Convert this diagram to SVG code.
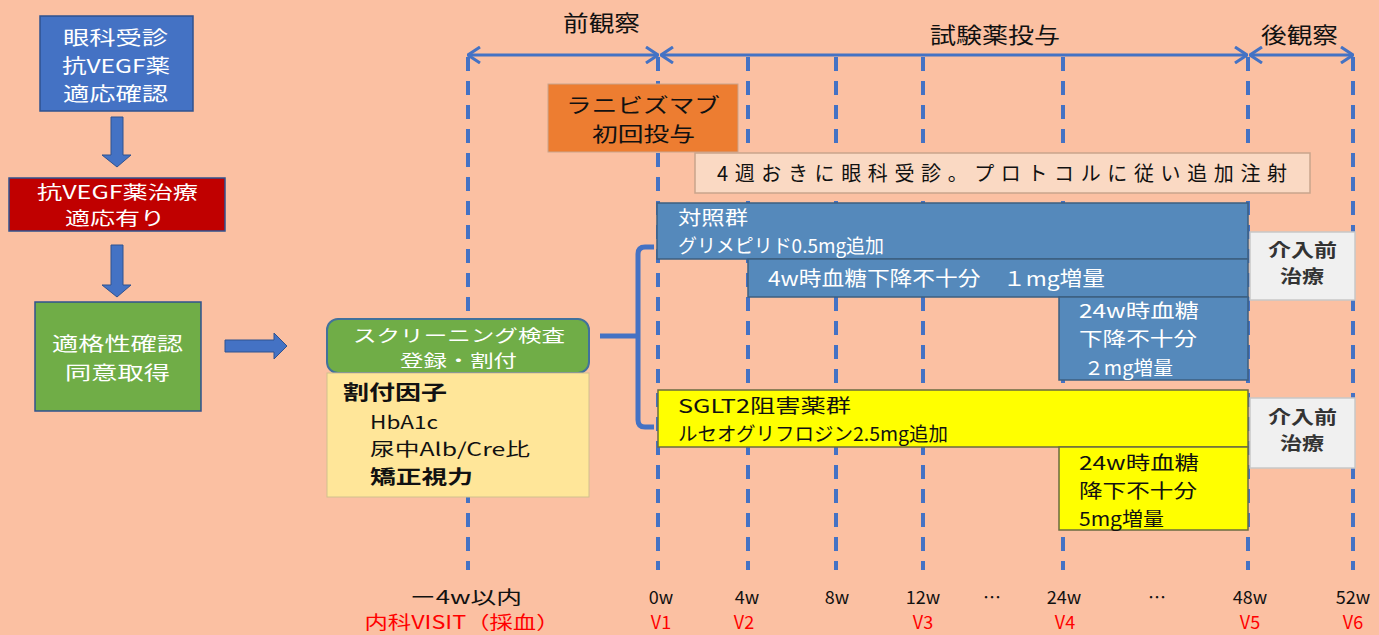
<svg xmlns="http://www.w3.org/2000/svg" width="1379" height="635" viewBox="0 0 1379 635">
<style>
text{font-family:"Noto Sans CJK JP","Noto Sans CJK SC",sans-serif;}
.w{fill:#ffffff;}
.k{fill:#111111;}
.r{fill:#ff0000;}
.b{font-weight:bold;}
.f22{font-size:22px;}
.f20{font-size:20px;}
.f19{font-size:19px;}
.f18{font-size:18px;}
.f17{font-size:17px;}
.dash{stroke:#4472c4;stroke-width:4;stroke-dasharray:14 10;fill:none;}
.tl{stroke:#4472c4;stroke-width:3;fill:none;marker-start:url(#chev);marker-end:url(#chev);}
.blk{fill:#4472c4;stroke:#2f528f;stroke-width:1;}
</style>
<defs>
<marker id="chev" viewBox="0 0 14 18" refX="13" refY="9" markerWidth="14" markerHeight="18" markerUnits="userSpaceOnUse" orient="auto-start-reverse">
<path d="M1,1 L13,9 L1,17" fill="none" stroke="#4472c4" stroke-width="3"/>
</marker>
</defs>
<rect x="0" y="0" width="1379" height="635" fill="#fbc0a2"/>

<g id="timeline">
<line class="dash" x1="468" y1="57" x2="468" y2="570"/>
<line class="dash" x1="658" y1="57" x2="658" y2="570"/>
<line class="dash" x1="748" y1="57" x2="748" y2="570"/>
<line class="dash" x1="836" y1="57" x2="836" y2="570"/>
<line class="dash" x1="923" y1="57" x2="923" y2="570"/>
<line class="dash" x1="1063" y1="57" x2="1063" y2="570"/>
<line class="dash" x1="1248" y1="57" x2="1248" y2="570"/>
<line class="dash" x1="1353" y1="57" x2="1353" y2="570"/>
<path class="tl" d="M468,55 H658"/>
<path class="tl" d="M661,55 H1247"/>
<path class="tl" d="M1250,55 H1353"/>
<text class="k f22" x="563" y="31" textLength="77" lengthAdjust="spacingAndGlyphs">前観察</text>
<text class="k f22" x="930" y="43" textLength="130" lengthAdjust="spacingAndGlyphs">試験薬投与</text>
<text class="k f22" x="1261" y="43" textLength="77" lengthAdjust="spacingAndGlyphs">後観察</text>
</g>

<g id="connectors">
<polygon class="blk" points="111,117 123,117 123,155 131,155 117,167 102,155 111,155"/>
<polygon class="blk" points="111,245 123,245 123,285 131,285 117,297 102,285 111,285"/>
<polygon class="blk" points="225,340 274,340 274,333 287,346 274,359 274,352 225,352"/>
<path d="M600,336 H638 M654,247 H645 Q638,247 638,254 V420 Q638,427 645,427 H654" fill="none" stroke="#4472c4" stroke-width="5"/>
</g>

<g id="n-ophthalmology">
<rect x="40" y="16" width="153" height="95" fill="#4472c4" stroke="#2f528f" stroke-width="1.5"/>
<text class="w f19" x="63" y="45" textLength="105" lengthAdjust="spacingAndGlyphs">眼科受診</text>
<text class="w f19" x="62" y="73" textLength="108" lengthAdjust="spacingAndGlyphs">抗VEGF薬</text>
<text class="w f19" x="63" y="101" textLength="105" lengthAdjust="spacingAndGlyphs">適応確認</text>
</g>

<g id="n-indication">
<rect x="9" y="178" width="216" height="53" fill="#c00000" stroke="#2f528f" stroke-width="1.5"/>
<text class="w f18" x="37" y="199" textLength="161" lengthAdjust="spacingAndGlyphs">抗VEGF薬治療</text>
<text class="w f18" x="65" y="225" textLength="100" lengthAdjust="spacingAndGlyphs">適応有り</text>
</g>

<g id="n-eligibility">
<rect x="35" y="302" width="166" height="109" fill="#70ad47" stroke="#2f528f" stroke-width="1.5"/>
<text class="w f19" x="52" y="351" textLength="131" lengthAdjust="spacingAndGlyphs">適格性確認</text>
<text class="w f19" x="65" y="380" textLength="105" lengthAdjust="spacingAndGlyphs">同意取得</text>
</g>

<g id="n-screening">
<rect x="327" y="319" width="262" height="54" rx="11" fill="#70ad47" stroke="#41719c" stroke-width="2"/>
<text class="w f17" x="353" y="342" textLength="212" lengthAdjust="spacingAndGlyphs">スクリーニング検査</text>
<text class="w f17" x="400" y="367" textLength="117" lengthAdjust="spacingAndGlyphs">登録・割付</text>
</g>

<g id="n-factors">
<rect x="327" y="373" width="262" height="124" fill="#ffe699" stroke="#d2c08e" stroke-width="1"/>
<text class="k f20 b" x="343" y="400" textLength="104" lengthAdjust="spacingAndGlyphs">割付因子</text>
<text class="k f18" x="370" y="429" textLength="68" lengthAdjust="spacingAndGlyphs">HbA1c</text>
<text class="k f18" x="370" y="456" textLength="160" lengthAdjust="spacingAndGlyphs">尿中Alb/Cre比</text>
<text class="k f19 b" x="370" y="484" textLength="103" lengthAdjust="spacingAndGlyphs">矯正視力</text>
</g>

<g id="n-ranibizumab">
<rect x="548" y="84" width="190" height="68" fill="#ed7d31" stroke="#c9a48c" stroke-width="1"/>
<text class="k f20" x="566" y="113" textLength="154" lengthAdjust="spacingAndGlyphs">ラニビズマブ</text>
<text class="k f20" x="592" y="142" textLength="103" lengthAdjust="spacingAndGlyphs">初回投与</text>
</g>

<g id="n-every4w">
<rect x="695" y="153" width="615" height="40" fill="#fad9c3" stroke="#c9a48c" stroke-width="1.5"/>
<text class="k f20" x="717" y="181" textLength="570">4週おきに眼科受診。プロトコルに従い追加注射</text>
</g>

<g id="n-control">
<rect x="657" y="203" width="591" height="56" fill="#5589bb" stroke="#3d5f80" stroke-width="1.5"/>
<text class="w f19" x="678" y="225" textLength="70" lengthAdjust="spacingAndGlyphs">対照群</text>
<text class="w f19" x="678" y="253" textLength="206" lengthAdjust="spacingAndGlyphs">グリメピリド0.5mg追加</text>
</g>

<g id="n-control-4w">
<rect x="748" y="259" width="500" height="38" fill="#5589bb" stroke="#3d5f80" stroke-width="1.5"/>
<text class="w f20" x="768" y="286" textLength="337" lengthAdjust="spacingAndGlyphs">4w時血糖下降不十分　１mg増量</text>
</g>

<g id="n-control-24w">
<rect x="1059" y="297" width="189" height="83" fill="#5589bb" stroke="#3d5f80" stroke-width="1.5"/>
<text class="w f19" x="1079" y="318" textLength="120" lengthAdjust="spacingAndGlyphs">24w時血糖</text>
<text class="w f19" x="1079" y="346" textLength="118" lengthAdjust="spacingAndGlyphs">下降不十分</text>
<text class="w f19" x="1084" y="375" textLength="89" lengthAdjust="spacingAndGlyphs">２mg増量</text>
</g>

<g id="n-sglt2">
<rect x="658" y="390" width="590" height="57" fill="#ffff00" stroke="#6b6b40" stroke-width="1.5"/>
<text class="k f19" x="678" y="413" textLength="173" lengthAdjust="spacingAndGlyphs">SGLT2阻害薬群</text>
<text class="k f19" x="678" y="441" textLength="270" lengthAdjust="spacingAndGlyphs">ルセオグリフロジン2.5mg追加</text>
</g>

<g id="n-sglt2-24w">
<rect x="1059" y="447" width="189" height="83" fill="#ffff00" stroke="#6b6b40" stroke-width="1.5"/>
<text class="k f19" x="1079" y="470" textLength="120" lengthAdjust="spacingAndGlyphs">24w時血糖</text>
<text class="k f19" x="1079" y="498" textLength="118" lengthAdjust="spacingAndGlyphs">降下不十分</text>
<text class="k f19" x="1079" y="526" textLength="85" lengthAdjust="spacingAndGlyphs">5mg増量</text>
</g>

<g id="n-pre1">
<rect x="1250" y="232" width="105" height="68" fill="#f0f0f0" stroke="#c8c8c8" stroke-width="1.5"/>
<text class="f18 b" fill="#333333" x="1268" y="257" textLength="69" lengthAdjust="spacingAndGlyphs">介入前</text>
<text class="f18 b" fill="#333333" x="1280" y="283" textLength="44" lengthAdjust="spacingAndGlyphs">治療</text>
</g>

<g id="n-pre2">
<rect x="1250" y="398" width="105" height="70" fill="#f0f0f0" stroke="#c8c8c8" stroke-width="1.5"/>
<text class="f18 b" fill="#333333" x="1268" y="424" textLength="69" lengthAdjust="spacingAndGlyphs">介入前</text>
<text class="f18 b" fill="#333333" x="1280" y="450" textLength="44" lengthAdjust="spacingAndGlyphs">治療</text>
</g>

<g id="axis-labels" text-anchor="middle">
<text class="k f18" x="466" y="604" textLength="112" lengthAdjust="spacingAndGlyphs">ー4w以内</text>
<text class="k f18" x="661" y="604">0w</text>
<text class="k f18" x="747" y="604">4w</text>
<text class="k f18" x="837" y="604">8w</text>
<text class="k f18" x="923" y="604">12w</text>
<text class="k f18" x="992" y="604">…</text>
<text class="k f18" x="1064" y="604">24w</text>
<text class="k f18" x="1157" y="604">…</text>
<text class="k f18" x="1250" y="604">48w</text>
<text class="k f18" x="1353" y="604">52w</text>
<text class="r f18" x="462" y="629" textLength="195" lengthAdjust="spacingAndGlyphs">内科VISIT（採血）</text>
<text class="r f18" x="661" y="629">V1</text>
<text class="r f18" x="744" y="629">V2</text>
<text class="r f18" x="923" y="629">V3</text>
<text class="r f18" x="1065" y="629">V4</text>
<text class="r f18" x="1250" y="629">V5</text>
<text class="r f18" x="1353" y="629">V6</text>
</g>
</svg>
